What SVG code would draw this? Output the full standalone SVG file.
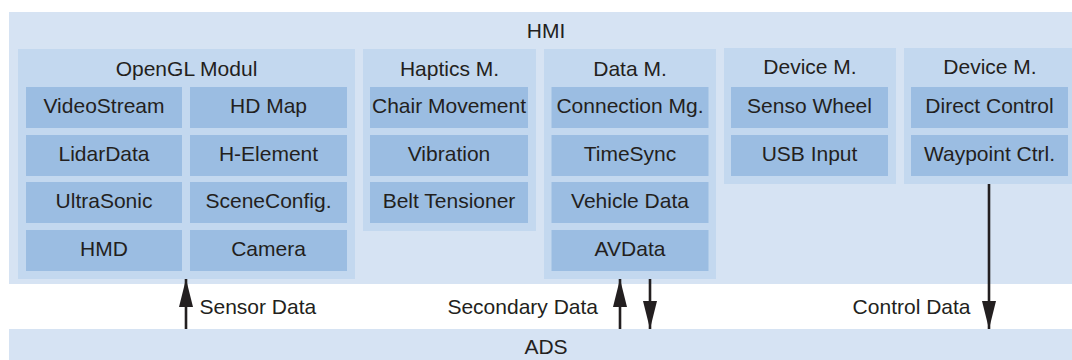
<svg xmlns="http://www.w3.org/2000/svg" width="1072" height="360" viewBox="0 0 1072 360">
<style>
.outer{fill:#d6e3f3}
.mod{fill:#c3d8ef}
.sub{fill:#9bbde2}
text{font-family:"Liberation Sans",Arial,sans-serif;font-size:21px;fill:#231f20;text-anchor:middle}
.lbl{text-anchor:start}
.lblr{text-anchor:end}
.conn{stroke:#231f20;stroke-width:2.6;fill:none;marker-end:url(#ah)}
</style>
<defs>
<marker id="ah" markerUnits="userSpaceOnUse" markerWidth="28" markerHeight="14" refX="28" refY="7" orient="auto">
<path d="M0,0 L28,7 L0,14 z" fill="#231f20"/>
</marker>
</defs>
<rect width="1072" height="360" fill="#ffffff"/>
<g id="hmi">
<rect class="outer" x="9" y="12" width="1063" height="272"/>
<text x="546" y="38">HMI</text>
</g>
<g id="ads">
<rect class="outer" x="9" y="329" width="1063" height="31"/>
<text x="546" y="354">ADS</text>
</g>
<g id="opengl">
<rect class="mod" x="18" y="49" width="337" height="230"/>
<text x="186.5" y="76">OpenGL Modul</text>
<rect class="sub" x="26" y="87" width="156" height="41"/><text x="104" y="113">VideoStream</text>
<rect class="sub" x="190" y="87" width="157" height="41"/><text x="268.5" y="113">HD Map</text>
<rect class="sub" x="26" y="135" width="156" height="41"/><text x="104" y="161">LidarData</text>
<rect class="sub" x="190" y="135" width="157" height="41"/><text x="268.5" y="161">H-Element</text>
<rect class="sub" x="26" y="182" width="156" height="41"/><text x="104" y="208">UltraSonic</text>
<rect class="sub" x="190" y="182" width="157" height="41"/><text x="268.5" y="208">SceneConfig.</text>
<rect class="sub" x="26" y="230" width="156" height="41"/><text x="104" y="256">HMD</text>
<rect class="sub" x="190" y="230" width="157" height="41"/><text x="268.5" y="256">Camera</text>
</g>
<g id="haptics">
<rect class="mod" x="363" y="49" width="173" height="182"/>
<text x="449.5" y="76">Haptics M.</text>
<rect class="sub" x="370" y="87" width="158" height="41"/><text x="449" y="113">Chair Movement</text>
<rect class="sub" x="370" y="135" width="158" height="41"/><text x="449" y="161">Vibration</text>
<rect class="sub" x="370" y="182" width="158" height="41"/><text x="449" y="208">Belt Tensioner</text>
</g>
<g id="data">
<rect class="mod" x="544" y="49" width="172" height="230"/>
<text x="630" y="76">Data M.</text>
<rect class="sub" x="551.5" y="87" width="157" height="41"/><text x="630" y="113">Connection Mg.</text>
<rect class="sub" x="551.5" y="135" width="157" height="41"/><text x="630" y="161">TimeSync</text>
<rect class="sub" x="551.5" y="182" width="157" height="41"/><text x="630" y="208">Vehicle Data</text>
<rect class="sub" x="551.5" y="230" width="157" height="41"/><text x="630" y="256">AVData</text>
</g>
<g id="device1">
<rect class="mod" x="724" y="48" width="172" height="136"/>
<text x="810" y="74">Device M.</text>
<rect class="sub" x="731" y="87" width="157" height="41"/><text x="809.5" y="113">Senso Wheel</text>
<rect class="sub" x="731" y="135" width="157" height="41"/><text x="809.5" y="161">USB Input</text>
</g>
<g id="device2">
<rect class="mod" x="904" y="48" width="168" height="136"/>
<text x="990" y="74">Device M.</text>
<rect class="sub" x="911" y="87" width="157" height="41"/><text x="989.5" y="113">Direct Control</text>
<rect class="sub" x="911" y="135" width="157" height="41"/><text x="989.5" y="161">Waypoint Ctrl.</text>
</g>
<g id="connectors">
<line class="conn" x1="186" y1="329" x2="186" y2="279"/>
<line class="conn" x1="620" y1="329" x2="620" y2="279"/>
<line class="conn" x1="650" y1="279" x2="650" y2="329"/>
<line class="conn" x1="989" y1="184" x2="989" y2="329"/>
<text class="lbl" x="199.5" y="313.5">Sensor Data</text>
<text class="lblr" x="598" y="313.5">Secondary Data</text>
<text class="lblr" x="970.5" y="313.5">Control Data</text>
</g>
</svg>
